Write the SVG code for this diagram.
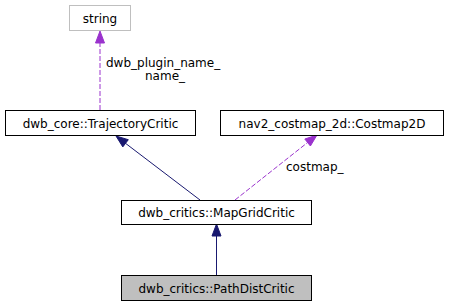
<svg xmlns="http://www.w3.org/2000/svg" width="450" height="307" viewBox="0 0 450 307">
<style>
text{font-family:"DejaVu Sans","Liberation Sans",sans-serif;font-size:12px;fill:#000}
.box{fill:#fff;stroke:#000;stroke-width:1}
.grey{stroke:#bfbfbf}
.cur{fill:#bfbfbf}
.inh{stroke:#191970;fill:none;stroke-width:1}
.inhh{fill:#191970;stroke:#191970}
.use{stroke:#9a32cd;fill:none;stroke-width:1;stroke-dasharray:5,2}
.useh{fill:#9a32cd;stroke:#9a32cd}
</style>
<rect width="450" height="307" fill="#fff"/>
<g id="edges">
<path class="use" d="M100,110 L100,43"/>
<polygon class="useh" points="100,31 95.5,43 104.5,43"/>
<text x="106" y="67">dwb_plugin_name_</text>
<text x="165" y="80" text-anchor="middle">name_</text>
<path class="inh" d="M200,200 L125.5,143.3"/>
<polygon class="inhh" points="116,136 128.3,139.7 122.8,146.9"/>
<path class="use" d="M235,200 L307.6,142.5"/>
<polygon class="useh" points="317,135 310.4,146 304.8,139"/>
<text x="286" y="171">costmap_</text>
<path class="inh" d="M216.5,275 L216.5,236"/>
<polygon class="inhh" points="216.5,224 212,236 221,236"/>
</g>
<g id="node_string">
<rect class="box grey" x="69.5" y="5.5" width="61" height="25"/>
<text x="100" y="22.5" text-anchor="middle">string</text>
</g>
<g id="node_trajectorycritic">
<rect class="box" x="5.5" y="110.5" width="190" height="25"/>
<text x="100.5" y="127.5" text-anchor="middle">dwb_core::TrajectoryCritic</text>
</g>
<g id="node_costmap2d">
<rect class="box" x="220.5" y="110.5" width="223" height="25"/>
<text x="332" y="127.5" text-anchor="middle">nav2_costmap_2d::Costmap2D</text>
</g>
<g id="node_mapgridcritic">
<rect class="box" x="121.5" y="200.5" width="190" height="24"/>
<text x="216.5" y="217" text-anchor="middle">dwb_critics::MapGridCritic</text>
</g>
<g id="node_pathdistcritic">
<rect class="box cur" x="121.5" y="275.5" width="190" height="25"/>
<text x="216.5" y="292.5" text-anchor="middle">dwb_critics::PathDistCritic</text>
</g>
</svg>
